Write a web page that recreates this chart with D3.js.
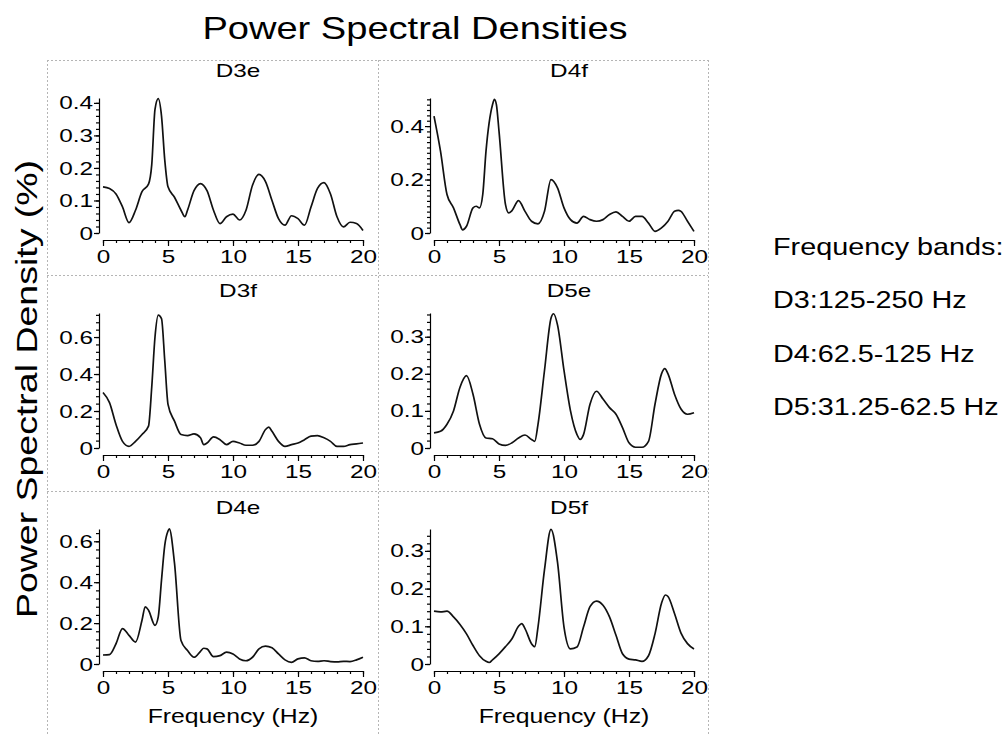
<!DOCTYPE html>
<html lang="en">
<head>
<meta charset="utf-8">
<title>Power Spectral Densities</title>
<script src="https://d3js.org/d3.v7.min.js"></script>
<style>
  body { margin: 0; background: #fff; }
  svg { display: block; font-family: "Liberation Sans", Arial, sans-serif; }
  .axis path, .axis line { stroke: #000; stroke-width: 1.2; }
  .box { stroke: #b5b5b5; stroke-width: 1; stroke-dasharray: 2,2; }
</style>
</head>
<body>
<script>
const w = 1007, h = 736;

// PSD (%), frequency in Hz
const d3eFreq = [0,0.5,1,1.5,2,2.5,3,3.5,3.75,4,4.25,4.5,4.75,5,5.5,6,6.3,6.5,7,7.5,8,8.5,9,9.5,10,10.5,11,11.5,12,12.5,13,13.5,14,14.5,15,15.5,16,16.5,17,17.5,18,18.5,19,19.5,20];
const d3ePsd  = [0.142,0.137,0.12,0.08,0.032,0.07,0.127,0.15,0.21,0.38,0.413,0.36,0.225,0.142,0.11,0.07,0.05,0.07,0.13,0.152,0.13,0.07,0.029,0.05,0.058,0.04,0.07,0.147,0.18,0.158,0.1,0.044,0.024,0.053,0.044,0.024,0.08,0.137,0.155,0.12,0.05,0.019,0.033,0.029,0.008];

const d4fFreq = [0,0.5,1,1.5,2,2.2,2.5,3,3.25,3.5,3.75,4,4.5,4.65,4.8,5,5.5,5.75,6,6.5,7,7.5,8,8.5,9,9.5,10,10.5,11,11.5,12,12.5,13,13.5,14,14.5,15,15.5,16,16.5,17,17.5,18,18.5,18.8,19,19.5,20];
const d4fPsd  = [0.437,0.306,0.144,0.094,0.031,0.012,0.025,0.094,0.1,0.094,0.144,0.306,0.48,0.5,0.48,0.381,0.106,0.075,0.084,0.121,0.081,0.044,0.034,0.081,0.2,0.169,0.094,0.05,0.037,0.062,0.05,0.044,0.05,0.069,0.079,0.062,0.044,0.062,0.062,0.037,0.006,0.019,0.044,0.081,0.085,0.081,0.044,0.006];

const d3fFreq = [0,0.5,1,1.5,2,2.5,3,3.5,3.75,4,4.25,4.5,4.75,5,5.5,6,6.5,7,7.5,7.75,8,8.5,9,9.5,10,10.5,11,11.5,12,12.5,12.75,13,13.5,14,14.5,15,15.5,16,16.5,17,17.5,18,18.5,19,19.5,20];
const d3fPsd  = [0.3,0.245,0.127,0.036,0.009,0.036,0.073,0.118,0.33,0.6,0.718,0.7,0.473,0.236,0.145,0.073,0.067,0.076,0.055,0.018,0.027,0.06,0.045,0.018,0.036,0.027,0.015,0.015,0.036,0.1,0.113,0.09,0.036,0.009,0.018,0.027,0.045,0.064,0.067,0.055,0.036,0.009,0.009,0.018,0.022,0.027];

const d5eFreq = [0,0.5,1,1.5,2,2.5,3,3.5,4,4.5,5,5.5,6,6.5,7,7.5,7.75,8,8.5,9,9.2,9.5,10,10.5,11,11.25,11.5,12,12.5,13,13.5,14,14.5,15,15.5,16,16.5,17,17.5,17.75,18,18.5,19,19.5,20];
const d5ePsd  = [0.041,0.045,0.064,0.1,0.164,0.195,0.145,0.064,0.027,0.025,0.011,0.007,0.014,0.027,0.035,0.023,0.018,0.064,0.209,0.35,0.362,0.332,0.209,0.1,0.036,0.023,0.036,0.118,0.153,0.132,0.109,0.091,0.055,0.014,0.002,0.002,0.018,0.118,0.2,0.214,0.2,0.145,0.105,0.091,0.095];

const d4eFreq = [0,0.5,1,1.5,2,2.5,3,3.25,3.5,4,4.25,4.5,4.75,5,5.1,5.5,6,6.5,7,7.5,7.75,8,8.5,9,9.5,10,10.5,11,11.5,12,12.5,13,13.5,14,14.5,15,15.5,16,16.5,17,17.5,18,18.5,19,19.5,20];
const d4ePsd  = [0.044,0.046,0.099,0.173,0.14,0.107,0.214,0.28,0.263,0.189,0.23,0.41,0.58,0.65,0.661,0.493,0.115,0.066,0.033,0.062,0.077,0.074,0.036,0.041,0.058,0.049,0.025,0.016,0.033,0.074,0.087,0.079,0.049,0.02,0.008,0.025,0.03,0.016,0.013,0.016,0.012,0.01,0.013,0.012,0.02,0.033];

const d5fFreq = [0,0.5,1,1.5,2,2.5,3,3.5,4,4.25,4.5,5,5.5,6,6.5,6.75,7,7.5,7.75,8,8.5,9,9.5,10,10.5,11,11.5,12,12.5,13,13.5,14,14.5,15,15.5,16,16.5,17,17.5,17.8,18,18.5,19,19.5,20];
const d5fPsd  = [0.14,0.138,0.14,0.125,0.105,0.08,0.049,0.022,0.007,0.004,0.011,0.027,0.046,0.067,0.1,0.107,0.094,0.054,0.046,0.098,0.25,0.357,0.27,0.098,0.04,0.045,0.098,0.152,0.167,0.156,0.125,0.076,0.027,0.013,0.011,0.007,0.022,0.08,0.161,0.183,0.179,0.134,0.082,0.054,0.04];

const panelNames = ["D3e", "D4f", "D3f", "D5e", "D4e", "D5f"];
const panelFreq  = [d3eFreq, d4fFreq, d3fFreq, d5eFreq, d4eFreq, d5fFreq];
const panelPsd   = [d3ePsd, d4fPsd, d3fPsd, d5ePsd, d4ePsd, d5fPsd];
const yMax   = [0.415, 0.505, 0.73, 0.364, 0.66, 0.358];
const yMajor = [0.1, 0.2, 0.2, 0.1, 0.2, 0.1];
const yMinor = [0.02, 0.02, 0.04, 0.02, 0.04, 0.02];
const xMajor = [0, 5, 10, 15, 20];
const xMinor = d3.range(0, 21, 1);

const mainTitle = "Power Spectral Densities";
const yTitle = "Power Spectral Density (%)";
const xTitle = "Frequency (Hz)";
const bandLabels = ["Frequency bands:", "D3:125-250 Hz", "D4:62.5-125 Hz", "D5:31.25-62.5 Hz"];

// layout
const colLeft = [47, 378], colRight = 708;
const rowTop = [60, 275, 491];
const titleY = [77, 297, 514];
const boxBottom = 736;

// text in the original is drawn wide; stretch horizontally
const tickSX = 1.28;

const svg = d3.select("body").append("svg")
    .attr("width", w)
    .attr("height", h);

// dotted panel frames
rowTop.forEach(function(y) {
    svg.append("line").attr("class", "box")
        .attr("x1", colLeft[0]).attr("x2", colRight)
        .attr("y1", y + 0.5).attr("y2", y + 0.5);
});
colLeft.concat([colRight]).forEach(function(x) {
    svg.append("line").attr("class", "box")
        .attr("x1", x + 0.5).attr("x2", x + 0.5)
        .attr("y1", rowTop[0]).attr("y2", boxBottom);
});

function yFmt(d) {
    return d < 1e-9 ? "0" : d3.format(".1f")(d);
}

panelNames.forEach(function(name, i) {
    const row = Math.floor(i / 2), col = i % 2;
    const x0 = colLeft[col], y0 = rowTop[row];
    const axisX = x0 + 52;
    const xScale = d3.scaleLinear().domain([0, 20]).range([x0 + 56, x0 + 316]);
    const yScale = d3.scaleLinear().domain([0, yMax[i]]).range([y0 + 173, y0 + 38]);
    const xAxisY = y0 + 180;

    const g = svg.append("g");

    // y axis: minor ticks then major ticks with labels
    g.append("g").attr("class", "axis")
        .attr("transform", "translate(" + axisX + ",0)")
        .call(d3.axisLeft(yScale).tickValues(d3.range(0, yMax[i] + 1e-9, yMinor[i]))
            .tickSize(3).tickFormat(""))
        .select(".domain").remove();

    const ya = g.append("g").attr("class", "axis")
        .attr("transform", "translate(" + axisX + ",0)")
        .call(d3.axisLeft(yScale).tickValues(d3.range(0, yMax[i] + 1e-9, yMajor[i]))
            .tickSize(5).tickSizeOuter(0).tickFormat(yFmt));
    ya.selectAll("text")
        .attr("x", -6 / tickSX)
        .attr("transform", "scale(" + tickSX + ",1)")
        .style("font-size", "19px")
        .attr("fill", "#000");

    // x axis
    g.append("g").attr("class", "axis")
        .attr("transform", "translate(0," + xAxisY + ")")
        .call(d3.axisBottom(xScale).tickValues(xMinor).tickSize(3).tickFormat(""))
        .select(".domain").remove();

    const xa = g.append("g").attr("class", "axis")
        .attr("transform", "translate(0," + xAxisY + ")")
        .call(d3.axisBottom(xScale).tickValues(xMajor).tickSize(6).tickSizeOuter(0)
            .tickPadding(4).tickFormat(d3.format("d")));
    xa.selectAll("text")
        .attr("transform", "scale(" + tickSX + ",1)")
        .style("font-size", "19px")
        .attr("fill", "#000");

    // panel title
    const cx = (xScale.range()[0] + xScale.range()[1]) / 2 + 5;
    g.append("text")
        .attr("transform", "translate(" + cx + "," + titleY[row] + ") scale(1.35,1)")
        .attr("text-anchor", "middle")
        .style("font-size", "18px")
        .text(name);

    // curve
    const pts = panelFreq[i].map(function(f, k) { return [f, panelPsd[i][k]]; });
    const line = d3.line()
        .x(function(d) { return xScale(d[0]); })
        .y(function(d) { return yScale(d[1]); })
        .curve(d3.curveMonotoneX);
    g.append("path")
        .datum(pts)
        .attr("d", line)
        .attr("fill", "none")
        .attr("stroke", "#111")
        .attr("stroke-width", 1.7)
        .attr("stroke-linejoin", "round");

    // x title under the bottom row
    if (row === 2) {
        g.append("text")
            .attr("transform", "translate(" + (cx - 5) + ",723) scale(1.18,1)")
            .attr("text-anchor", "middle")
            .style("font-size", "21px")
            .text(xTitle);
    }
});

// main title
svg.append("text")
    .attr("transform", "translate(415,39) scale(1.19,1)")
    .attr("text-anchor", "middle")
    .style("font-size", "32px")
    .text(mainTitle);

// shared y title
svg.append("text")
    .attr("transform", "translate(37,389) rotate(-90) scale(1.25,1)")
    .attr("text-anchor", "middle")
    .style("font-size", "30px")
    .text(yTitle);

// frequency band notes
svg.selectAll(".band")
    .data(bandLabels)
    .enter()
    .append("text")
    .attr("class", "band")
    .attr("transform", function(d, i) {
        return "translate(773," + (255 + i * 53.3) + ") scale(1.2,1)";
    })
    .style("font-size", "24px")
    .text(function(d) { return d; });
</script>
</body>
</html>
